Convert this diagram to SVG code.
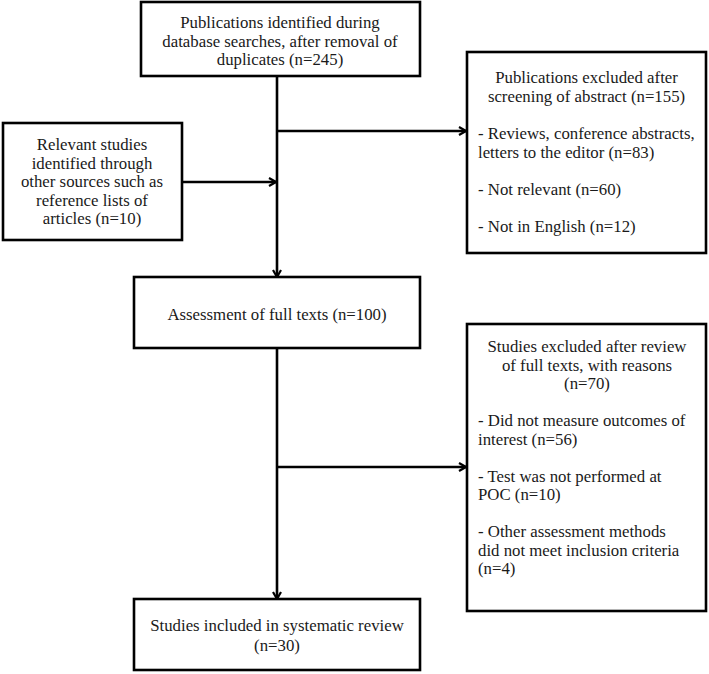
<svg xmlns="http://www.w3.org/2000/svg" width="709" height="674" viewBox="0 0 709 674">
<style>
.box{fill:#fff;stroke:#000;stroke-width:2.6}
.t{font-family:"Liberation Serif",serif;font-size:16.8px;fill:#1a1a1a}
.c{text-anchor:middle}
.edge{fill:none;stroke:#000;stroke-width:2.6}
</style>
<defs>
<marker id="arr" viewBox="0 0 10 10" refX="9" refY="5" markerWidth="10" markerHeight="10" markerUnits="userSpaceOnUse" orient="auto">
<polyline points="2,1 9,5 2,9" fill="none" stroke="#000" stroke-width="2.2"/>
</marker>
</defs>
<rect width="709" height="674" fill="#fff"/>
<g id="connectors">
<line class="edge" x1="277" y1="76" x2="277" y2="277" marker-end="url(#arr)"/>
<line class="edge" x1="277" y1="131" x2="466" y2="131" marker-end="url(#arr)"/>
<line class="edge" x1="182" y1="182" x2="276" y2="182" marker-end="url(#arr)"/>
<line class="edge" x1="277" y1="348" x2="277" y2="599" marker-end="url(#arr)"/>
<line class="edge" x1="277" y1="467" x2="466" y2="467" marker-end="url(#arr)"/>
</g>
<g id="n1">
<rect class="box" x="141" y="2" width="279" height="74"/>
<text class="t c" x="280" y="28">Publications identified during</text>
<text class="t c" x="280" y="46.5">database searches, after removal of</text>
<text class="t c" x="280" y="65">duplicates (n=245)</text>
</g>
<g id="n2">
<rect class="box" x="3" y="123" width="179" height="117"/>
<text class="t c" x="92" y="150">Relevant studies</text>
<text class="t c" x="92" y="168.5">identified through</text>
<text class="t c" x="92" y="187">other sources such as</text>
<text class="t c" x="92" y="205.5">reference lists of</text>
<text class="t c" x="92" y="224">articles (n=10)</text>
</g>
<g id="n3">
<rect class="box" x="467" y="52" width="239" height="201"/>
<text class="t c" x="586.5" y="83">Publications excluded after</text>
<text class="t c" x="586.5" y="101.5">screening of abstract (n=155)</text>
<text class="t" x="478" y="139">- Reviews, conference abstracts,</text>
<text class="t" x="478" y="157.5">letters to the editor (n=83)</text>
<text class="t" x="478" y="194.5">- Not relevant (n=60)</text>
<text class="t" x="478" y="231.5">- Not in English (n=12)</text>
</g>
<g id="n4">
<rect class="box" x="134" y="277" width="286" height="71"/>
<text class="t c" x="277" y="320">Assessment of full texts (n=100)</text>
</g>
<g id="n5">
<rect class="box" x="467" y="324" width="239" height="287"/>
<text class="t c" x="587" y="352">Studies excluded after review</text>
<text class="t c" x="587" y="370.5">of full texts, with reasons</text>
<text class="t c" x="587" y="389">(n=70)</text>
<text class="t" x="478" y="426">- Did not measure outcomes of</text>
<text class="t" x="478" y="444.5">interest (n=56)</text>
<text class="t" x="478" y="481.5">- Test was not performed at</text>
<text class="t" x="478" y="500">POC (n=10)</text>
<text class="t" x="478" y="537">- Other assessment methods</text>
<text class="t" x="478" y="555.5">did not meet inclusion criteria</text>
<text class="t" x="478" y="574">(n=4)</text>
</g>
<g id="n6">
<rect class="box" x="134" y="599" width="286" height="71"/>
<text class="t c" x="277" y="631">Studies included in systematic review</text>
<text class="t c" x="277" y="651">(n=30)</text>
</g>
</svg>
